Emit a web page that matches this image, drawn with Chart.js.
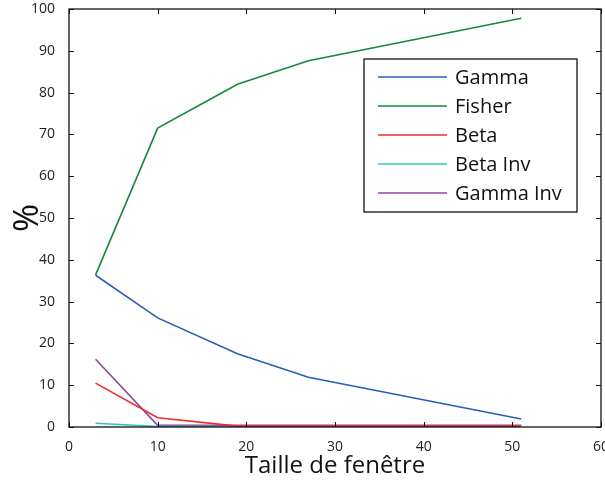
<!DOCTYPE html>
<html>
<head>
<meta charset="utf-8">
<script src="https://cdn.jsdelivr.net/npm/chart.js@4/dist/chart.umd.min.js"></script>
<style>
  html, body { margin: 0; padding: 0; background: #fff; }
  #wrap { width: 605px; height: 481px; }
</style>
</head>
<body>
<div id="wrap"><canvas id="myChart"></canvas></div>
<script>
const windowSizes = [3, 10, 19, 27, 51];
const gamma    = [36.3, 26.1, 17.5, 11.9, 1.9];
const fisher   = [36.4, 71.5, 82.0, 87.6, 97.8];
const beta     = [10.5, 2.2, 0.2, 0.2, 0.2];
const betaInv  = [0.9, 0.1, 0.1, 0.1, 0.1];
const gammaInv = [16.2, 0.4, 0.4, 0.4, 0.4];
const seriesNames = ['Gamma', 'Fisher', 'Beta', 'Beta Inv', 'Gamma Inv'];
const seriesColors = ['#2a5cb4', '#16883e', '#ee2b2e', '#2cc6c8', '#8c47a6'];
const xTicks = [0, 10, 20, 30, 40, 50, 60];
const yTicks = [0, 10, 20, 30, 40, 50, 60, 70, 80, 90, 100];

const FONT = '"Open Sans", "DejaVu Sans", sans-serif';

function toPoints(vals) {
  return vals.map((v, i) => ({ x: windowSizes[i], y: v }));
}

const allSeries = [gamma, fisher, beta, betaInv, gammaInv];

// frame + inward ticks, matlab style
const framePlugin = {
  id: 'frame',
  afterDatasetsDraw(chart) {
    const { ctx, chartArea: a, scales } = chart;
    ctx.save();
    ctx.strokeStyle = '#111';
    ctx.lineWidth = 1.3;
    ctx.strokeRect(a.left, a.top, a.right - a.left, a.bottom - a.top);
    ctx.lineWidth = 1;
    const tl = 5;
    xTicks.forEach(t => {
      const px = Math.round(scales.x.getPixelForValue(t)) + 0.5;
      ctx.beginPath();
      ctx.moveTo(px, a.bottom); ctx.lineTo(px, a.bottom - tl);
      ctx.moveTo(px, a.top); ctx.lineTo(px, a.top + tl);
      ctx.stroke();
    });
    yTicks.forEach(t => {
      const py = Math.round(scales.y.getPixelForValue(t)) + 0.5;
      ctx.beginPath();
      ctx.moveTo(a.left, py); ctx.lineTo(a.left + tl, py);
      ctx.moveTo(a.right, py); ctx.lineTo(a.right - tl, py);
      ctx.stroke();
    });
    ctx.restore();
  },
  afterDraw(chart) {
    // legend box inside the axes
    const { ctx } = chart;
    const bx = 364, by = 59, bw = 213, bh = 153;
    ctx.save();
    ctx.fillStyle = '#fff';
    ctx.fillRect(bx, by, bw, bh);
    ctx.strokeStyle = '#111';
    ctx.lineWidth = 1.3;
    ctx.strokeRect(bx, by, bw, bh);
    ctx.font = '20px ' + FONT;
    ctx.textBaseline = 'middle';
    ctx.fillStyle = '#111';
    chart.data.datasets.forEach((ds, i) => {
      const y = by + 18 + i * 29;
      ctx.strokeStyle = ds.borderColor;
      ctx.lineWidth = 1.5;
      ctx.beginPath();
      ctx.moveTo(bx + 14, y); ctx.lineTo(bx + 83, y);
      ctx.stroke();
      ctx.fillText(ds.label, bx + 91, y + 1);
    });
    ctx.restore();
  }
};

const ctx = document.getElementById('myChart').getContext('2d');
new Chart(ctx, {
  type: 'line',
  data: {
    datasets: allSeries.map((vals, i) => ({
      label: seriesNames[i],
      data: toPoints(vals),
      borderColor: seriesColors[i],
      backgroundColor: seriesColors[i],
      borderWidth: 1.6,
      pointRadius: 0,
      tension: 0,
      fill: false
    }))
  },
  options: {
    responsive: true,
    maintainAspectRatio: false,
    animation: false,
    layout: { padding: { top: 9, right: 4, left: 0, bottom: 0 } },
    plugins: {
      legend: { display: false },
      tooltip: { enabled: false }
    },
    scales: {
      x: {
        type: 'linear',
        min: 0,
        max: 60,
        afterBuildTicks: s => { s.ticks = xTicks.map(v => ({ value: v })); },
        afterFit: s => { s.height = 54; s.paddingLeft = 0; s.paddingRight = 0; },
        grid: { display: false },
        border: { display: false },
        ticks: { font: { family: FONT, size: 14 }, color: '#222', padding: 4, maxRotation: 0 },
        title: { display: true, text: 'Taille de fenêtre', font: { family: FONT, size: 24 }, color: '#111', padding: { top: 0, bottom: 0 } }
      },
      y: {
        min: 0,
        max: 100,
        afterBuildTicks: s => { s.ticks = yTicks.map(v => ({ value: v })); },
        afterFit: s => { s.width = 69; s.paddingTop = 0; s.paddingBottom = 0; },
        grid: { display: false },
        border: { display: false },
        ticks: { font: { family: FONT, size: 14 }, color: '#222', padding: 6 },
        title: { display: true, text: '%', font: { family: FONT, size: 34 }, color: '#111', padding: { top: 8, bottom: 0 } }
      }
    }
  },
  plugins: [framePlugin]
});
</script>
</body>
</html>
